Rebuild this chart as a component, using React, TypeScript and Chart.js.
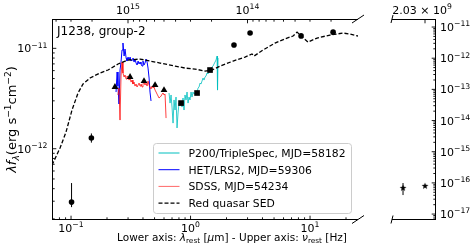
import React, { useEffect, useRef } from 'react';
import { Chart, registerables } from 'chart.js';
Chart.register(...registerables);

const FONT = '"DejaVu Sans", "Noto Sans", sans-serif';
const C_UM_HZ = 2.998e14;

// ---------------- data ----------------
// Red quasar SED template (rest wavelength in micron, lambda f_lambda)
const sedLam = [0.0693, 0.0809, 0.0908, 0.1019, 0.1144, 0.126, 0.1442, 0.1749, 0.204, 0.2474, 0.2999, 0.378, 0.458, 0.556, 0.742, 0.899, 1.091, 1.322, 1.513, 1.77, 2.27, 2.858, 3.27, 3.4, 4.04, 4.62, 5.09, 6.42, 7.21, 7.79, 8.58, 9.62, 11.45, 14.69, 18.88, 21.61, 25.2];
const sedFlux = [6.88e-13, 1.016e-12, 1.466e-12, 2.43e-12, 3.59e-12, 4.41e-12, 5.06e-12, 5.68e-12, 6.08e-12, 6.98e-12, 7.65e-12, 7.82e-12, 7.47e-12, 7.14e-12, 6.66e-12, 6.36e-12, 6.22e-12, 5.94e-12, 6.08e-12, 6.66e-12, 7.47e-12, 8.19e-12, 8.78e-12, 8.38e-12, 9.62e-12, 1.054e-11, 1.129e-11, 1.266e-11, 1.326e-11, 1.453e-11, 1.296e-11, 1.155e-11, 1.266e-11, 1.357e-11, 1.42e-11, 1.388e-11, 1.326e-11];

// HET/LRS2 spectrum
const blueLam = [0.238, 0.243, 0.247, 0.252, 0.257, 0.262, 0.267, 0.272, 0.278, 0.283, 0.289, 0.294, 0.3, 0.306, 0.312, 0.318, 0.324, 0.33, 0.337, 0.343, 0.35, 0.357, 0.364, 0.371, 0.378, 0.385, 0.393, 0.4, 0.408, 0.416, 0.424, 0.433, 0.441, 0.45, 0.458, 0.467];
const blueFlux = [3.67e-12, 5.81e-12, 4.21e-12, 2.79e-12, 6.08e-12, 7.3e-12, 9.62e-12, 1.13e-11, 8.38e-12, 9.84e-12, 8.01e-12, 7.47e-12, 8.19e-12, 7.65e-12, 8.19e-12, 7.47e-12, 7.65e-12, 8.01e-12, 7.3e-12, 7.82e-12, 7.14e-12, 6.82e-12, 7.47e-12, 6.98e-12, 7.3e-12, 6.98e-12, 6.66e-12, 7.47e-12, 6.82e-12, 7.14e-12, 7.82e-12, 7.3e-12, 6.36e-12, 5.06e-12, 3.67e-12, 2.99e-12];

// SDSS spectrum
const redLam = [0.247, 0.252, 0.257, 0.262, 0.267, 0.272, 0.278, 0.283, 0.289, 0.294, 0.3, 0.306, 0.312, 0.318, 0.324, 0.33, 0.337, 0.343, 0.35, 0.357, 0.364, 0.371, 0.378, 0.385, 0.393, 0.4, 0.408, 0.416, 0.424, 0.433, 0.441, 0.45, 0.458, 0.467, 0.476, 0.486, 0.495, 0.505, 0.515, 0.525, 0.535, 0.545, 0.556, 0.567, 0.578, 0.589, 0.6, 0.612, 0.624];
const redFlux = [3.43e-12, 4.02e-12, 1.93e-12, 5.3e-12, 7.3e-12, 5.68e-12, 5.18e-12, 5.42e-12, 4.94e-12, 5.3e-12, 5.18e-12, 4.83e-12, 5.06e-12, 4.61e-12, 4.83e-12, 4.41e-12, 4.61e-12, 4.21e-12, 4.41e-12, 4.12e-12, 4.31e-12, 4.51e-12, 4.21e-12, 4.41e-12, 4.12e-12, 4.41e-12, 4.61e-12, 4.31e-12, 4.51e-12, 4.21e-12, 4.72e-12, 4.31e-12, 4.12e-12, 3.93e-12, 4.21e-12, 4.02e-12, 4.12e-12, 3.84e-12, 3.67e-12, 3.5e-12, 3.35e-12, 3.2e-12, 3.27e-12, 3.35e-12, 3.5e-12, 3.59e-12, 3.43e-12, 3.5e-12, 2.02e-12];

// P200/TripleSpec spectrum
const cyanLam = [0.661, 0.674, 0.687, 0.7, 0.714, 0.728, 0.742, 0.756, 0.771, 0.786, 0.801, 0.817, 0.833, 0.849, 0.865, 0.882, 0.899, 0.917, 0.935, 0.953, 0.971, 0.99, 1.01, 1.029, 1.049, 1.07, 1.091, 1.112, 1.134, 1.156, 1.178, 1.201, 1.224, 1.248, 1.272, 1.297, 1.322, 1.348, 1.374, 1.401, 1.428, 1.456, 1.484, 1.513, 1.543, 1.573, 1.603, 1.635, 1.667, 1.682, 1.699];
const cyanFlux = [3.59e-12, 2.85e-12, 3.43e-12, 2.6e-12, 1.8e-12, 3.06e-12, 2.43e-12, 3.27e-12, 1.61e-12, 2.27e-12, 2.85e-12, 2.72e-12, 2.92e-12, 2.6e-12, 3.2e-12, 2.43e-12, 3.43e-12, 3.06e-12, 3.67e-12, 2.85e-12, 3.27e-12, 3.06e-12, 3.67e-12, 3.27e-12, 3.67e-12, 3.5e-12, 3.59e-12, 3.76e-12, 3.67e-12, 4.02e-12, 4.12e-12, 4.51e-12, 4.41e-12, 4.72e-12, 5.06e-12, 4.83e-12, 5.18e-12, 5.3e-12, 5.68e-12, 5.55e-12, 5.94e-12, 6.08e-12, 6.36e-12, 6.51e-12, 6.66e-12, 6.98e-12, 7.3e-12, 7.65e-12, 8.38e-12, 3.84e-12, 8.01e-12];

// Photometry
const uvLam = [0.101, 0.148];
const uvFlux = [2.94e-13, 1.28e-12];
const uvErrLo = [2.62e-13, 1.15e-12];
const uvErrHi = [4.55e-13, 1.42e-12];

const triLam = [0.233, 0.312, 0.408, 0.505, 0.6];
const triFlux = [4.12e-12, 5.18e-12, 4.72e-12, 4.31e-12, 3.84e-12];

const sqLam = [0.833, 1.134, 1.456];
const sqFlux = [2.85e-12, 3.59e-12, 6.08e-12];

const irLam = [2.31, 3.15, 8.41, 15.6];
const irFlux = [1.08e-11, 1.42e-11, 1.33e-11, 1.45e-11];

// Radio
const radioLam = [9.67e4, 1.477e5];
const radioFlux = [6.84e-17, 7.94e-17];
const radioErrLo = [4.07e-17, NaN];
const radioErrHi = [9.9e-17, NaN];
const radioTopTicks = [2.03e9];

// Axis limits
const lamMin = 0.0693, lamMax = 25.2;
const fMin = 1.95e-13, fMax = 1.96e-11;
const rLamMin = 7.82e4, rLamMax = 1.825e5;
const rfMin = 6.45e-18, rfMax = 1.81e-11;

const labels = ['P200/TripleSpec, MJD=58182', 'HET/LRS2, MJD=59306', 'SDSS, MJD=54234', 'Red quasar SED'];

// ---------------- helpers ----------------
type Seg = { t: string; s?: 'sup' | 'sub'; it?: boolean };

const zip = (xs: number[], ys: number[]) => xs.map((x, i) => ({ x, y: ys[i] }));

function segFont(seg: Seg, size: number) {
  const sz = seg.s ? size * 0.7 : size;
  return `${seg.it ? 'italic ' : ''}${sz}px ${FONT}`;
}
function richWidth(ctx: CanvasRenderingContext2D, segs: Seg[], size: number) {
  let w = 0;
  for (const s of segs) { ctx.font = segFont(s, size); w += ctx.measureText(s.t).width; }
  return w;
}
function drawRich(ctx: CanvasRenderingContext2D, segs: Seg[], x: number, y: number, size: number, align: 'left' | 'center' | 'right' = 'left') {
  const w = richWidth(ctx, segs, size);
  let cx = align === 'left' ? x : align === 'center' ? x - w / 2 : x - w;
  ctx.textAlign = 'left';
  ctx.textBaseline = 'alphabetic';
  for (const s of segs) {
    ctx.font = segFont(s, size);
    const dy = s.s === 'sup' ? -size * 0.42 : s.s === 'sub' ? size * 0.22 : 0;
    ctx.fillText(s.t, cx, y + dy);
    cx += ctx.measureText(s.t).width;
  }
  return w;
}
function powSegs(v: number): Seg[] {
  const e = Math.round(Math.log10(v));
  return [{ t: '10' }, { t: e < 0 ? '\u2212' + -e : String(e), s: 'sup' }];
}
function sciSegs(v: number): Seg[] {
  const e = Math.floor(Math.log10(v));
  const m = v / Math.pow(10, e);
  return [{ t: m.toFixed(2) + ' \u00d7 10' }, { t: String(e), s: 'sup' }];
}
function logTicks(min: number, max: number) {
  const out: { value: number; major: boolean }[] = [];
  for (let e = Math.floor(Math.log10(min)); e <= Math.ceil(Math.log10(max)); e++) {
    for (let m = 1; m <= 9; m++) {
      const v = m * Math.pow(10, e);
      if (v >= min * 0.9999 && v <= max * 1.0001) out.push({ value: v, major: m === 1 });
    }
  }
  return out;
}
function line(ctx: CanvasRenderingContext2D, x1: number, y1: number, x2: number, y2: number) {
  ctx.beginPath(); ctx.moveTo(x1, y1); ctx.lineTo(x2, y2); ctx.stroke();
}
function hTicks(chart: any, id: string, y: number, dir: number, labelY: number | null, fmt: (v: number) => Seg[] = powSegs, labelDx = 0) {
  const s = chart.scales[id]; const a = chart.chartArea; const ctx = chart.ctx as CanvasRenderingContext2D;
  ctx.strokeStyle = '#000'; ctx.lineWidth = 0.9; ctx.fillStyle = '#000';
  for (const t of s.ticks) {
    const px = s.getPixelForValue(t.value);
    if (px < a.left - 0.5 || px > a.right + 0.5) continue;
    const len = t.major ? 3.8 : 2.2;
    line(ctx, px, y, px, y + dir * len);
    if (t.major && labelY !== null) drawRich(ctx, fmt(t.value), px + labelDx, labelY, 11, 'center');
  }
}
function vTicks(chart: any, id: string, x: number, dir: number, labelX: number, align: 'left' | 'right') {
  const s = chart.scales[id]; const a = chart.chartArea; const ctx = chart.ctx as CanvasRenderingContext2D;
  ctx.strokeStyle = '#000'; ctx.lineWidth = 0.9; ctx.fillStyle = '#000';
  for (const t of s.ticks) {
    const py = s.getPixelForValue(t.value);
    if (py < a.top - 0.5 || py > a.bottom + 0.5) continue;
    const len = t.major ? 3.8 : 2.2;
    line(ctx, x, py, x + dir * len, py);
    if (t.major) drawRich(ctx, powSegs(t.value), labelX, py + 4, 11, align);
  }
}
function makeStar(r: number) {
  const c = document.createElement('canvas');
  const s = Math.ceil(r * 2 + 2);
  c.width = s; c.height = s;
  const g = c.getContext('2d')!;
  g.fillStyle = '#000';
  g.beginPath();
  for (let i = 0; i < 10; i++) {
    const ang = -Math.PI / 2 + (i * Math.PI) / 5;
    const rr = i % 2 === 0 ? r : r * 0.4;
    g.lineTo(s / 2 + rr * Math.cos(ang), s / 2 + rr * Math.sin(ang));
  }
  g.closePath(); g.fill();
  return c;
}
const hiddenAxis = (extra: any) => ({
  display: true,
  bounds: 'data',
  grid: { display: false, drawTicks: false },
  border: { display: false },
  ticks: { display: false },
  ...extra,
});

// ---------------- component ----------------
export default function App() {
  const mainRef = useRef<HTMLCanvasElement>(null);
  const sideRef = useRef<HTMLCanvasElement>(null);

  useEffect(() => {
    document.body.style.margin = '0';

    const legendStyles = [
      { color: 'rgba(0,191,191,0.5)', width: 2, dash: [] as number[] },
      { color: '#0000ff', width: 1, dash: [] as number[] },
      { color: 'rgba(255,0,0,0.6)', width: 1, dash: [] as number[] },
      { color: '#000', width: 1.3, dash: [4, 2] },
    ];

    const mainDeco = {
      id: 'mainDeco',
      beforeDatasetsDraw(chart: any) {
        const ctx = chart.ctx as CanvasRenderingContext2D;
        const xs = chart.scales.x, ys = chart.scales.y;
        ctx.save();
        ctx.strokeStyle = '#000'; ctx.lineWidth = 1;
        uvLam.forEach((l, i) => {
          const px = xs.getPixelForValue(l);
          line(ctx, px, ys.getPixelForValue(uvErrLo[i]), px, ys.getPixelForValue(uvErrHi[i]));
        });
        ctx.restore();
      },
      afterDraw(chart: any) {
        const ctx = chart.ctx as CanvasRenderingContext2D;
        const a = chart.chartArea;
        ctx.save();
        ctx.strokeStyle = '#000'; ctx.lineWidth = 1;
        // spines
        line(ctx, a.left + 0.5, a.top + 0.5, a.left + 0.5, a.bottom - 0.5);
        line(ctx, a.left, a.top + 0.5, a.right, a.top + 0.5);
        line(ctx, a.left, a.bottom - 0.5, a.right, a.bottom - 0.5);
        // break marks
        line(ctx, a.right - 6, a.top + 4, a.right + 6, a.top - 4);
        line(ctx, a.right - 6, a.bottom + 3.5, a.right + 6, a.bottom - 4.5);
        // ticks and labels
        hTicks(chart, 'x', a.bottom - 0.5, -1, a.bottom + 12);
        hTicks(chart, 'xTop', a.top + 0.5, 1, a.top - 5.5);
        vTicks(chart, 'y', a.left + 0.5, 1, a.left - 4.5, 'right');
        // annotation
        ctx.fillStyle = '#000';
        drawRich(ctx, [{ t: 'J1238, group-2' }], a.left + 5, a.top + 16, 12, 'left');
        // axis titles
        drawRich(ctx, [
          { t: 'Lower axis: ' }, { t: '\u03bb', it: true }, { t: 'rest', s: 'sub' }, { t: ' [' }, { t: '\u03bc', it: true },
          { t: 'm] - Upper axis: ' }, { t: '\u03bd', it: true }, { t: 'rest', s: 'sub' }, { t: ' [Hz]' },
        ], a.left + 180, a.bottom + 21, 10.5, 'center');
        ctx.save();
        ctx.translate(16, (a.top + a.bottom) / 2);
        ctx.rotate(-Math.PI / 2);
        drawRich(ctx, [
          { t: '\u03bbf', it: true }, { t: '\u03bb', it: true, s: 'sub' }, { t: '(erg s' }, { t: '\u22121', s: 'sup' },
          { t: 'cm' }, { t: '\u22122', s: 'sup' }, { t: ')' },
        ], 0, 0, 13, 'center');
        ctx.restore();
        // legend
        const bx = a.left + 101.5, by = a.top + 124.5, bw = 198, bh = 70;
        ctx.fillStyle = 'rgba(255,255,255,0.8)';
        ctx.strokeStyle = '#cccccc'; ctx.lineWidth = 1;
        ctx.beginPath();
        (ctx as any).roundRect(bx, by, bw, bh, 3);
        ctx.fill(); ctx.stroke();
        const ds = chart.data.datasets;
        for (let i = 0; i < 4; i++) {
          const cy = by + 9.5 + i * 16.7;
          const st = legendStyles[i];
          ctx.strokeStyle = st.color; ctx.lineWidth = st.width; ctx.setLineDash(st.dash);
          line(ctx, bx + 5, cy, bx + 26, cy);
          ctx.setLineDash([]);
          ctx.fillStyle = '#000';
          drawRich(ctx, [{ t: ds[i].label }], bx + 35, cy + 4, 10.8, 'left');
        }
        ctx.restore();
      },
    };

    const main = new Chart(mainRef.current!, {
      type: 'line',
      data: {
        datasets: [
          { label: labels[0], data: zip(cyanLam, cyanFlux), borderColor: 'rgba(0,191,191,0.8)', borderWidth: 1, pointRadius: 0, order: 6 },
          { label: labels[1], data: zip(blueLam, blueFlux), borderColor: '#0000ff', borderWidth: 1, pointRadius: 0, order: 5 },
          { label: labels[2], data: zip(redLam, redFlux), borderColor: 'rgba(255,0,0,0.75)', borderWidth: 1, pointRadius: 0, order: 4 },
          { label: labels[3], data: zip(sedLam, sedFlux), borderColor: '#000', borderWidth: 1.3, borderDash: [4, 2], pointRadius: 0, order: 3 },
          { label: 'UV', data: zip(uvLam, uvFlux), showLine: false, pointStyle: 'circle', pointRadius: 2.8, backgroundColor: '#000', borderColor: '#000', borderWidth: 0, order: 2 },
          { label: 'opt', data: zip(triLam, triFlux), showLine: false, pointStyle: 'triangle', pointRadius: 3.9, backgroundColor: '#000', borderColor: '#000', borderWidth: 0, order: 1 },
          { label: 'nir', data: zip(sqLam, sqFlux), showLine: false, pointStyle: 'rect', pointRadius: 4, backgroundColor: '#000', borderColor: '#000', borderWidth: 0, order: 1 },
          { label: 'mir', data: zip(irLam, irFlux), showLine: false, pointStyle: 'circle', pointRadius: 2.8, backgroundColor: '#000', borderColor: '#000', borderWidth: 0, order: 2 },
        ] as any,
      },
      options: {
        responsive: false,
        animation: false,
        devicePixelRatio: 1,
        events: [],
        layout: { padding: { left: 52, top: 19, right: 116, bottom: 25 } },
        plugins: { legend: { display: false }, tooltip: { enabled: false }, title: { display: false } },
        scales: {
          x: hiddenAxis({ type: 'logarithmic', position: 'bottom', min: lamMin, max: lamMax, afterBuildTicks: (s: any) => { s.ticks = logTicks(s.min, s.max); } }),
          xTop: hiddenAxis({ type: 'logarithmic', axis: 'x', position: 'top', reverse: true, min: C_UM_HZ / lamMax, max: C_UM_HZ / lamMin, afterBuildTicks: (s: any) => { s.ticks = logTicks(s.min, s.max); } }),
          y: hiddenAxis({ type: 'logarithmic', position: 'left', min: fMin, max: fMax, afterBuildTicks: (s: any) => { s.ticks = logTicks(s.min, s.max); } }),
        } as any,
      },
      plugins: [mainDeco],
    });

    const star = makeStar(3.6);
    const sideDeco = {
      id: 'sideDeco',
      beforeDatasetsDraw(chart: any) {
        const ctx = chart.ctx as CanvasRenderingContext2D;
        const xs = chart.scales.x, ys = chart.scales.y;
        ctx.save();
        ctx.strokeStyle = '#000'; ctx.lineWidth = 1;
        radioLam.forEach((l, i) => {
          if (!isFinite(radioErrLo[i])) return;
          const px = xs.getPixelForValue(l);
          line(ctx, px, ys.getPixelForValue(radioErrLo[i]), px, ys.getPixelForValue(radioErrHi[i]));
        });
        ctx.restore();
      },
      afterDraw(chart: any) {
        const ctx = chart.ctx as CanvasRenderingContext2D;
        const a = chart.chartArea;
        ctx.save();
        ctx.strokeStyle = '#000'; ctx.lineWidth = 1;
        line(ctx, a.left, a.top + 0.5, a.right, a.top + 0.5);
        line(ctx, a.left, a.bottom - 0.5, a.right, a.bottom - 0.5);
        line(ctx, a.right - 0.5, a.top, a.right - 0.5, a.bottom);
        line(ctx, a.left - 1, a.top + 4, a.left + 1, a.top - 4);
        line(ctx, a.left - 1, a.bottom + 3.5, a.left + 1, a.bottom - 4.5);
        hTicks(chart, 'xTop', a.top + 0.5, 1, a.top - 5.5, sciSegs, -3);
        vTicks(chart, 'y', a.right - 0.5, -1, a.right + 4, 'left');
        ctx.restore();
      },
    };

    const side = new Chart(sideRef.current!, {
      type: 'line',
      data: {
        datasets: [
          { label: 'radio', data: zip(radioLam, radioFlux), showLine: false, pointStyle: star, pointRadius: 4, backgroundColor: '#000', borderColor: '#000', borderWidth: 0 },
        ] as any,
      },
      options: {
        responsive: false,
        animation: false,
        devicePixelRatio: 1,
        events: [],
        layout: { padding: { left: 392, top: 19, right: 38, bottom: 25 } },
        plugins: { legend: { display: false }, tooltip: { enabled: false }, title: { display: false } },
        scales: {
          x: hiddenAxis({ type: 'logarithmic', position: 'bottom', min: rLamMin, max: rLamMax, afterBuildTicks: (s: any) => { s.ticks = []; } }),
          xTop: hiddenAxis({ type: 'logarithmic', axis: 'x', position: 'top', reverse: true, min: C_UM_HZ / rLamMax, max: C_UM_HZ / rLamMin, afterBuildTicks: (s: any) => { s.ticks = radioTopTicks.map((v) => ({ value: v, major: true })); } }),
          y: hiddenAxis({ type: 'logarithmic', position: 'right', min: rfMin, max: rfMax, afterBuildTicks: (s: any) => { s.ticks = logTicks(s.min, s.max); } }),
        } as any,
      },
      plugins: [sideDeco],
    });

    return () => { main.destroy(); side.destroy(); };
  }, []);

  return (
    <div style={{ position: 'fixed', left: 0, top: 0, width: 474, height: 245, background: '#fff' }}>
      <canvas ref={mainRef} width={474} height={245} style={{ position: 'absolute', left: 0, top: 0 }} />
      <canvas ref={sideRef} width={474} height={245} style={{ position: 'absolute', left: 0, top: 0 }} />
    </div>
  );
}
